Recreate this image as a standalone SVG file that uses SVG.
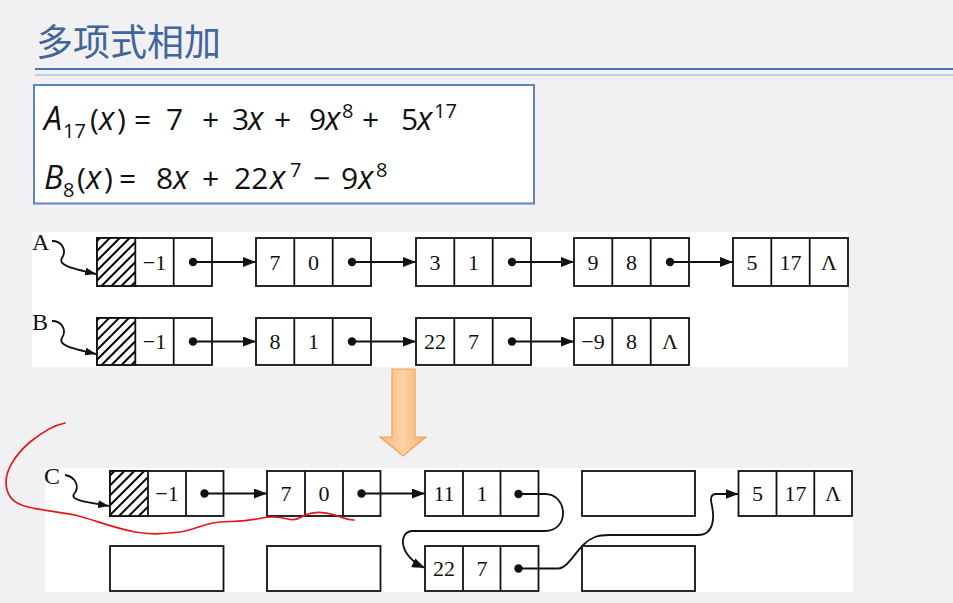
<svg xmlns="http://www.w3.org/2000/svg" width="953" height="603" viewBox="0 0 953 603">
<defs>
<style>
.cell{fill:#fff;stroke:#111;stroke-width:1.8}
.div{stroke:#111;stroke-width:1.8}
.t{font-family:"Liberation Serif","Times New Roman",serif;font-size:22px;fill:#111;text-anchor:middle}
.lbl{font-family:"Liberation Serif","Times New Roman",serif;font-size:24px;fill:#111}
.f{font-family:"Open Sans","Noto Sans",sans-serif;font-size:30px;fill:#111}
.fi{font-style:italic;font-size:32px}
.s{font-size:20px}
.con{fill:none;stroke:#111;stroke-width:1.8}
.dot{fill:#111}
</style>
<pattern id="hatch" patternUnits="userSpaceOnUse" width="7" height="7" patternTransform="rotate(45)">
<rect width="7" height="7" fill="#fff"/>
<line x1="1" y1="0" x2="1" y2="7" stroke="#000" stroke-width="2"/>
</pattern>
<marker id="ah" markerUnits="userSpaceOnUse" markerWidth="14" markerHeight="10" refX="13" refY="5" orient="auto">
<path d="M0,0 L13,5 L0,10 z" fill="#111"/>
</marker>
<marker id="ah2" markerUnits="userSpaceOnUse" markerWidth="12" markerHeight="8" refX="11" refY="4" orient="auto">
<path d="M0,0 L11,4 L0,8 z" fill="#111"/>
</marker>
<linearGradient id="og" x1="0" y1="0" x2="1" y2="0">
<stop offset="0" stop-color="#f9b878"/>
<stop offset="0.5" stop-color="#fdd2a6"/>
<stop offset="1" stop-color="#f9b070"/>
</linearGradient>
</defs>
<rect width="953" height="603" fill="#f1f0f2"/>
<g id="title">
<text x="36" y="56" font-family="'Noto Sans CJK SC','Noto Sans',sans-serif" font-size="37" fill="#41669a">多项式相加</text>
<line x1="35" y1="69" x2="953" y2="69" stroke="#4a76b0" stroke-width="2"/>
<line x1="35" y1="75" x2="953" y2="75" stroke="#8fb0d8" stroke-width="1.2"/>
</g>
<g id="formula">
<rect x="34" y="85" width="500" height="118.5" fill="#fff" stroke="#5b86c0" stroke-width="2"/>
<text class="f"><tspan class="fi" x="44" y="130">A</tspan><tspan class="s" x="63" y="138">17</tspan><tspan x="90" y="130">(</tspan><tspan class="fi" x="99" y="130">x</tspan><tspan x="117" y="130">)</tspan><tspan x="134" y="130">=</tspan><tspan x="166" y="130">7</tspan><tspan x="202" y="130">+</tspan><tspan x="232" y="130">3</tspan><tspan class="fi" x="248" y="130">x</tspan><tspan x="274" y="130">+</tspan><tspan x="309" y="130">9</tspan><tspan class="fi" x="325" y="130">x</tspan><tspan class="s" x="342" y="118">8</tspan><tspan x="362" y="130">+</tspan><tspan x="401" y="130">5</tspan><tspan class="fi" x="417" y="130">x</tspan><tspan class="s" x="434" y="118">17</tspan></text>
<text class="f"><tspan class="fi" x="44" y="189">B</tspan><tspan class="s" x="63" y="197">8</tspan><tspan x="77" y="189">(</tspan><tspan class="fi" x="86" y="189">x</tspan><tspan x="104" y="189">)</tspan><tspan x="119" y="189">=</tspan><tspan x="156" y="189">8</tspan><tspan class="fi" x="173" y="189">x</tspan><tspan x="202" y="189">+</tspan><tspan x="234" y="189">22</tspan><tspan class="fi" x="270" y="189">x</tspan><tspan class="s" x="290" y="177">7</tspan><tspan x="313" y="189">−</tspan><tspan x="341" y="189">9</tspan><tspan class="fi" x="358" y="189">x</tspan><tspan class="s" x="376" y="177">8</tspan></text>
</g>
<rect x="32" y="232" width="816" height="135" fill="#fff"/>
<rect x="45" y="468" width="808" height="124" fill="#fff"/>
<g id="labelA"><text class="lbl" x="32" y="250">A</text></g>
<g id="labelB"><text class="lbl" x="32" y="330">B</text></g>
<g id="labelC"><text class="lbl" x="44" y="484">C</text></g>
<g id="A0"><rect class="cell" x="97" y="238" width="115" height="48"/><rect x="97" y="238" width="38.3" height="48" fill="url(#hatch)" stroke="#111" stroke-width="1.8"/><line class="div" x1="173.7" y1="238" x2="173.7" y2="286"/><text class="t" x="154.5" y="270">−1</text></g>
<g id="A1"><rect class="cell" x="256" y="238" width="115" height="48"/><line class="div" x1="294.3" y1="238" x2="294.3" y2="286"/><line class="div" x1="332.7" y1="238" x2="332.7" y2="286"/><text class="t" x="275" y="270">7</text><text class="t" x="313.5" y="270">0</text></g>
<g id="A2"><rect class="cell" x="416" y="238" width="115" height="48"/><line class="div" x1="454.3" y1="238" x2="454.3" y2="286"/><line class="div" x1="492.7" y1="238" x2="492.7" y2="286"/><text class="t" x="435" y="270">3</text><text class="t" x="473.5" y="270">1</text></g>
<g id="A3"><rect class="cell" x="574" y="238" width="115" height="48"/><line class="div" x1="612.3" y1="238" x2="612.3" y2="286"/><line class="div" x1="650.7" y1="238" x2="650.7" y2="286"/><text class="t" x="593" y="270">9</text><text class="t" x="631.5" y="270">8</text></g>
<g id="A4"><rect class="cell" x="733" y="238" width="115" height="48"/><line class="div" x1="771.3" y1="238" x2="771.3" y2="286"/><line class="div" x1="809.7" y1="238" x2="809.7" y2="286"/><text class="t" x="752" y="270">5</text><text class="t" x="790.5" y="270">17</text><text class="t" x="829" y="270">Λ</text></g>
<g id="B0"><rect class="cell" x="97" y="318" width="115" height="47"/><rect x="97" y="318" width="38.3" height="47" fill="url(#hatch)" stroke="#111" stroke-width="1.8"/><line class="div" x1="173.7" y1="318" x2="173.7" y2="365"/><text class="t" x="154.5" y="349">−1</text></g>
<g id="B1"><rect class="cell" x="256" y="318" width="115" height="47"/><line class="div" x1="294.3" y1="318" x2="294.3" y2="365"/><line class="div" x1="332.7" y1="318" x2="332.7" y2="365"/><text class="t" x="275" y="349">8</text><text class="t" x="313.5" y="349">1</text></g>
<g id="B2"><rect class="cell" x="416" y="318" width="115" height="47"/><line class="div" x1="454.3" y1="318" x2="454.3" y2="365"/><line class="div" x1="492.7" y1="318" x2="492.7" y2="365"/><text class="t" x="435" y="349">22</text><text class="t" x="473.5" y="349">7</text></g>
<g id="B3"><rect class="cell" x="574" y="318" width="115" height="47"/><line class="div" x1="612.3" y1="318" x2="612.3" y2="365"/><line class="div" x1="650.7" y1="318" x2="650.7" y2="365"/><text class="t" x="593" y="349">−9</text><text class="t" x="631.5" y="349">8</text><text class="t" x="670" y="349">Λ</text></g>
<g id="C0"><rect class="cell" x="110" y="471" width="113.5" height="45"/><rect x="110" y="471" width="38" height="45" fill="url(#hatch)" stroke="#111" stroke-width="1.8"/><line class="div" x1="186" y1="471" x2="186" y2="516"/><text class="t" x="167" y="501">−1</text></g>
<g id="C1"><rect class="cell" x="267" y="471" width="113.5" height="45"/><line class="div" x1="305" y1="471" x2="305" y2="516"/><line class="div" x1="343" y1="471" x2="343" y2="516"/><text class="t" x="286" y="501">7</text><text class="t" x="324" y="501">0</text></g>
<g id="C2"><rect class="cell" x="425" y="471" width="113.5" height="45"/><line class="div" x1="463" y1="471" x2="463" y2="516"/><line class="div" x1="500.5" y1="471" x2="500.5" y2="516"/><text class="t" x="444" y="501">11</text><text class="t" x="482" y="501">1</text></g>
<g id="C3"><rect class="cell" x="582" y="471" width="113" height="45"/></g>
<g id="C4"><rect class="cell" x="738.5" y="471" width="113.5" height="45"/><line class="div" x1="776.5" y1="471" x2="776.5" y2="516"/><line class="div" x1="814.3" y1="471" x2="814.3" y2="516"/><text class="t" x="757.5" y="501">5</text><text class="t" x="795.5" y="501">17</text><text class="t" x="833" y="501">Λ</text></g>
<g id="D0"><rect class="cell" x="110" y="546" width="113.5" height="45"/></g>
<g id="D1"><rect class="cell" x="267" y="546" width="113.5" height="45"/></g>
<g id="D2"><rect class="cell" x="425" y="546" width="113.5" height="45"/><line class="div" x1="463" y1="546" x2="463" y2="591"/><line class="div" x1="500.5" y1="546" x2="500.5" y2="591"/><text class="t" x="444" y="576">22</text><text class="t" x="482" y="576">7</text></g>
<g id="D3"><rect class="cell" x="582" y="546" width="113" height="45"/></g>
<g id="connectors">
<path class="con" d="M52,241 C62,241 67,250 62,258 C58,265 70,268 96,274" marker-end="url(#ah2)"/>
<path class="con" d="M52,321 C62,321 67,330 62,338 C58,345 70,348 96,354" marker-end="url(#ah2)"/>
<path class="con" d="M65,475 C76,477 80,487 74,494 C70,500 85,502 109,506" marker-end="url(#ah2)"/>
<circle class="dot" cx="193" cy="262" r="4.2"/><line class="con" x1="193" y1="262" x2="256" y2="262" marker-end="url(#ah)"/>
<circle class="dot" cx="352" cy="262" r="4.2"/><line class="con" x1="352" y1="262" x2="416" y2="262" marker-end="url(#ah)"/>
<circle class="dot" cx="512" cy="262" r="4.2"/><line class="con" x1="512" y1="262" x2="574" y2="262" marker-end="url(#ah)"/>
<circle class="dot" cx="670" cy="262" r="4.2"/><line class="con" x1="670" y1="262" x2="733" y2="262" marker-end="url(#ah)"/>
<circle class="dot" cx="193" cy="341.5" r="4.2"/><line class="con" x1="193" y1="341.5" x2="256" y2="341.5" marker-end="url(#ah)"/>
<circle class="dot" cx="352" cy="341.5" r="4.2"/><line class="con" x1="352" y1="341.5" x2="416" y2="341.5" marker-end="url(#ah)"/>
<circle class="dot" cx="512" cy="341.5" r="4.2"/><line class="con" x1="512" y1="341.5" x2="574" y2="341.5" marker-end="url(#ah)"/>
<circle class="dot" cx="204.5" cy="493.5" r="4.2"/><line class="con" x1="204.5" y1="493.5" x2="267" y2="493.5" marker-end="url(#ah)"/>
<circle class="dot" cx="361.5" cy="493.5" r="4.2"/><line class="con" x1="361.5" y1="493.5" x2="425" y2="493.5" marker-end="url(#ah)"/>
<circle class="dot" cx="518.5" cy="494" r="4.2"/><path class="con" d="M518.5,494 H545 C568,494 570,531 545,531 H413 C398,531 398,556 425,568" marker-end="url(#ah)"/>
<circle class="dot" cx="518.5" cy="568.5" r="4.2"/><path class="con" d="M518.5,568.5 H558 C570,568.5 578,543 595,537 C600,535 605,535 610,535 H698 C715,535 714,516 712,506 C710,498 711,494 716,494 H738.5" marker-end="url(#ah)"/>
</g>
<g id="bigArrow">
<polygon points="392,369 415,369 415,437 426,437 403,456 380,437 392,437" fill="url(#og)" stroke="#f0a258" stroke-width="1.2"/>
</g>
<g id="redMark">
<path d="M65,423 C55,425 45,430 30,442 C15,455 6,470 6,482 C6,496 14,504 28,507 C45,511 60,512 75,515 C95,520 110,527 135,532 C150,535 165,534 180,532 C195,530 205,523 220,522 C235,521 245,522 262,518 C272,516 280,517 288,519 C295,521 300,518 305,515 C315,511 325,512 335,515 C343,518 348,520 354,520" fill="none" stroke="#e8141b" stroke-width="1.7" stroke-linecap="round"/>
</g>
</svg>
